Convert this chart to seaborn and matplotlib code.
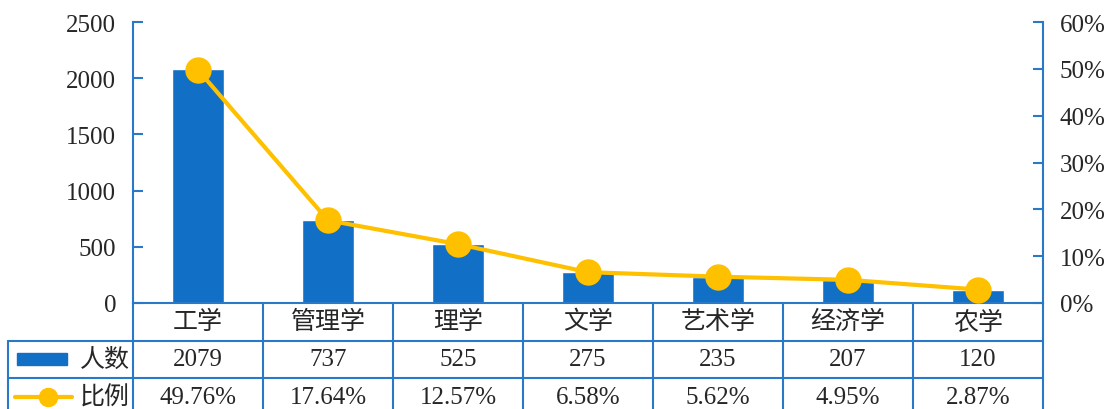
import numpy as np
import pandas as pd
import matplotlib
matplotlib.use('Agg')
import matplotlib.pyplot as plt
import seaborn as sns

# data
majors = ['工学', '管理学', '理学', '文学', '艺术学', '经济学', '农学']
counts = [2079, 737, 525, 275, 235, 207, 120]
ratios = [49.76, 17.64, 12.57, 6.58, 5.62, 4.95, 2.87]
left_ticks = [0, 500, 1000, 1500, 2000, 2500]
right_ticks = [0, 10, 20, 30, 40, 50, 60]

sns.set_style('white')
plt.rcParams['font.family'] = ['Liberation Serif', 'Noto Sans CJK SC']
plt.rcParams['axes.unicode_minus'] = False

BLUE = '#1170C6'
LINE_BLUE = '#2A78C8'
GOLD = '#FFC000'
FS = 18

W, H = 1107, 410
fig = plt.figure(figsize=(W / 100, H / 100), dpi=100)

# main plot area (pixel box 133..1043 x 23..304)
ax = fig.add_axes([133 / W, 1 - 304 / H, (1043 - 133) / W, (304 - 23) / H])
df = pd.DataFrame({'major': majors, 'count': counts, 'ratio': ratios})
sns.barplot(data=df, x='major', y='count', color=BLUE, width=0.4, saturation=1, ax=ax)
ax.set_xlim(-0.5, len(majors) - 0.5)
ax.set_ylim(0, 2500)
ax.set_yticks(left_ticks)
ax.set_xticks([])
ax.set_xlabel('')
ax.set_ylabel('')
for s in ['top', 'right']:
    ax.spines[s].set_visible(False)
for s in ['left', 'bottom']:
    ax.spines[s].set_color(LINE_BLUE)
    ax.spines[s].set_linewidth(1.5)
ax.tick_params(axis='y', direction='in', length=7, width=1.5, color=LINE_BLUE,
               labelsize=FS, pad=12)

ax2 = ax.twinx()
sns.lineplot(x=np.arange(len(majors)), y=ratios, color=GOLD, linewidth=3,
             marker='o', markersize=19, markeredgewidth=0, ax=ax2)
ax2.set_ylim(0, 60)
ax2.set_yticks(right_ticks)
ax2.set_yticklabels([f'{t}%' for t in right_ticks])
for s in ['top', 'left', 'bottom']:
    ax2.spines[s].set_visible(False)
ax2.spines['right'].set_color(LINE_BLUE)
ax2.spines['right'].set_linewidth(1.5)
ax2.tick_params(axis='y', direction='in', length=7, width=1.5, color=LINE_BLUE,
                labelsize=FS, pad=12)

# data table below the plot
n = len(majors)
unit = (1043 - 133) / n
left_edge = -0.5 - (133 - 8) / unit
row_h = 37.5
tab_h = H - 304
tx = fig.add_axes([0, 0, 1043 / W, tab_h / H])
tx.set_xlim(-0.5 - 133 / unit, n - 0.5)
tx.set_ylim(tab_h / row_h, 0)
tx.axis('off')

lk = dict(color=LINE_BLUE, linewidth=1.5, clip_on=False)
for k in range(n + 1):
    tx.plot([k - 0.5, k - 0.5], [0, 3], **lk)
tx.plot([left_edge, left_edge], [1, 3], **lk)
for r in [1, 2, 3]:
    tx.plot([left_edge, n - 0.5], [r, r], **lk)

for i in range(n):
    tx.text(i, 0.5, majors[i], ha='center', va='center', fontsize=FS)
    tx.text(i, 1.5, f'{counts[i]}', ha='center', va='center', fontsize=FS)
    tx.text(i, 2.5, f'{ratios[i]:.2f}%', ha='center', va='center', fontsize=FS)

# legend keys in first column
x0 = left_edge
tx.add_patch(plt.Rectangle((x0 + 9 / unit, 1.5 - 6 / row_h), 50 / unit, 12 / row_h,
                           color=BLUE, clip_on=False))
tx.plot([x0 + 7 / unit, x0 + 64 / unit], [2.5, 2.5], color=GOLD, linewidth=3,
        clip_on=False)
tx.plot([x0 + 40 / unit], [2.5], 'o', color=GOLD, markersize=13, clip_on=False)
tx.text(x0 + 72 / unit, 1.5, '人数', ha='left', va='center', fontsize=FS)
tx.text(x0 + 72 / unit, 2.5, '比例', ha='left', va='center', fontsize=FS)

fig.savefig('out.png', dpi=100)
